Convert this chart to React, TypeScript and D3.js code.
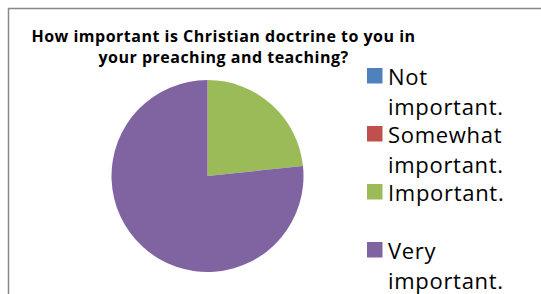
import * as d3 from "d3";
import React from "react";

const categories = ["Not important.", "Somewhat important.", "Important.", "Very important."];
const values = [0, 0, 7, 23];
const colors = ["#4F81BD", "#C0504D", "#9BBB59", "#8064A2"];
const legendLines = [["Not", "important."], ["Somewhat", "important."], ["Important."], ["Very", "important."]];
const titleLines = ["How important is Christian doctrine to you in", "your preaching and teaching?"];

const W = 541, H = 294;
const cx = 207.5, cy = 176, r = 96;

const pie = d3.pie<number>().sort(null).value((d) => d);
const arc = d3.arc<d3.PieArcDatum<number>>().innerRadius(0).outerRadius(r);

// legend rows, 58px apart, second line just under the first
const legendY = d3.scaleLinear().domain([0, 1]).range([84.5, 142.5]);

export default function App() {
  const arcs = pie(values);
  return (
    <svg width={W} height={H} style={{ position: "absolute", left: 0, top: 0 }}
      fontFamily="'Open Sans', sans-serif">
      <rect width={W} height={H} fill="#fff" />
      <path d={`M8.5,${H} V8.5 H${W}`} fill="none" stroke="#888" strokeWidth={1.5} />
      <g fontWeight="bold" fontSize={16} letterSpacing={0.5} textAnchor="middle" fill="#000">
        {titleLines.map((t, i) => (
          <text key={i} x={223.5} y={42 + i * 20.5}>{t}</text>
        ))}
      </g>
      <g transform={`translate(${cx},${cy})`}>
        {arcs.map((a, i) => (
          <path key={categories[i]} d={arc(a) || ""} fill={colors[i]} />
        ))}
      </g>
      <g fontSize={22} letterSpacing={0.7} fill="#000">
        {legendLines.map((lines, i) => {
          const y = legendY(i);
          return (
            <g key={categories[i]}>
              <rect x={367} y={y - 16.5} width={15.5} height={15.5} fill={colors[i]} />
              {lines.map((l, j) => (
                <text key={j} x={388} y={y + j * 30.5}>{l}</text>
              ))}
            </g>
          );
        })}
      </g>
    </svg>
  );
}
